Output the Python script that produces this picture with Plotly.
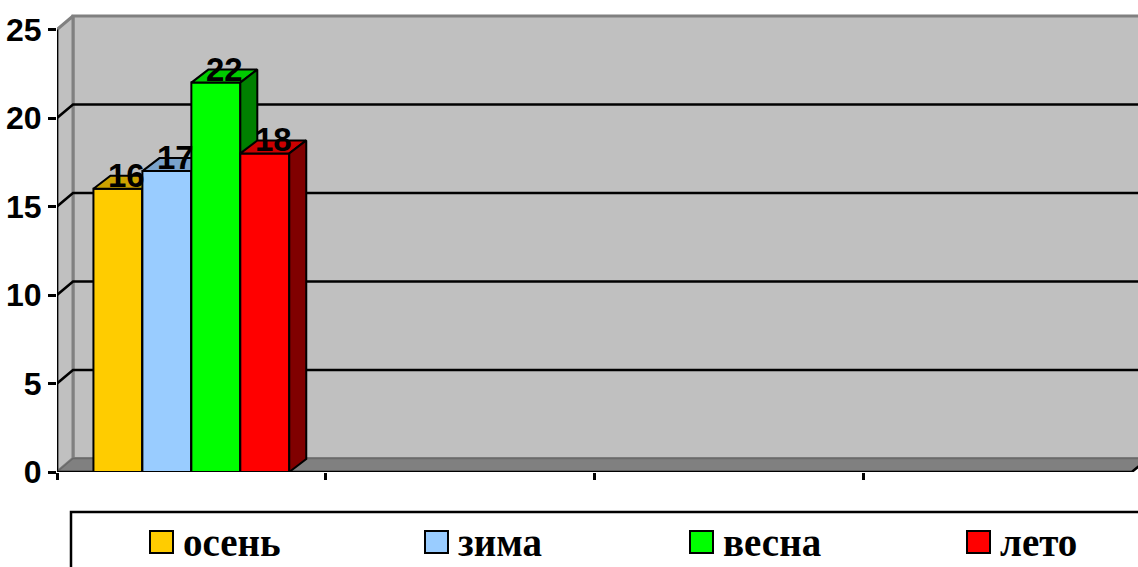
import plotly.graph_objects as go

# ---------------- data ----------------
series_names = ["осень", "зима", "весна", "лето"]
values = [16, 17, 22, 18]
category_slots = [0, 1, 2, 3]          # 4 category slots on the x axis, data in the first
data_slot = 0
y_tick_vals = [0, 5, 10, 15, 20, 25]
x_tick_vals = [0, 1, 2, 3]

# ---------------- styles ----------------
front_colors = ["#FFCC00", "#99CCFF", "#00FF00", "#FF0000"]
top_colors = ["#CCA300", "#7AA3CC", "#00CC00", "#CC0000"]
side_colors = ["#806600", "#4D6680", "#008000", "#800000"]
WALL = "#C0C0C0"
FLOOR = "#808080"
EDGE = "#808080"

W, H = 1138, 567
ML, MB, MT, MR = 57, 95, 0, 0
PX_X = 268.7      # pixels per category slot
PX_Y = 17.7       # pixels per value unit
XMAX = (W - ML - MR) / PX_X
YMAX = (H - MB - MT) / PX_Y
NSLOT = len(category_slots)
VMAX = max(y_tick_vals)

DXW, DYW = 16 / PX_X, 13.5 / PX_Y     # wall depth
DXB, DYB = 17 / PX_X, 13 / PX_Y       # bar depth
BW = 0.1822                           # bar width (in slot units)

fig = go.Figure()
z = [0]


def nz():
    z[0] += 1
    return z[0]


def poly(xs, ys, fill, line_color, line_width):
    fig.add_trace(go.Scatter(
        x=xs + [xs[0]], y=ys + [ys[0]], mode="lines", fill="toself",
        fillcolor=fill, line=dict(color=line_color, width=line_width),
        hoverinfo="skip", showlegend=False, zorder=nz()))


def line(xs, ys, color, width):
    fig.add_trace(go.Scatter(
        x=xs, y=ys, mode="lines", line=dict(color=color, width=width),
        hoverinfo="skip", showlegend=False, zorder=nz()))


# back wall
poly([DXW, NSLOT + DXW, NSLOT + DXW, DXW],
     [DYW, DYW, VMAX + DYW, VMAX + DYW], WALL, EDGE, 3)
# left wall
poly([0, 0, DXW, DXW], [0, VMAX, VMAX + DYW, DYW], WALL, EDGE, 3)
# gridlines
for v in y_tick_vals[1:-1]:
    line([0, DXW, NSLOT + DXW], [v, v + DYW, v + DYW], "black", 2.5)
# floor
poly([0, NSLOT, NSLOT + DXW, DXW], [0, 0, DYW, DYW], FLOOR, "#6A6A6A", 1.5)
# front axis lines
line([0, NSLOT, NSLOT + DXW], [0, 0, DYW], "black", 2.5)
line([0, 0], [0, VMAX], "black", 2.5)

# bars
center = data_slot + 0.5
n = len(values)
for i, (name, v) in enumerate(zip(series_names, values)):
    off = -n / 2 * BW + i * BW
    x0 = center + off
    x1 = x0 + BW
    fig.add_trace(go.Bar(
        x=[center], y=[v], width=[BW], offset=[off], name=name,
        marker=dict(color=front_colors[i], line=dict(color="black", width=2)),
        hoverinfo="skip", showlegend=False, zorder=nz()))
    # top face
    poly([x0, x1, x1 + DXB, x0 + DXB], [v, v, v + DYB, v + DYB],
         top_colors[i], "black", 2)
    # side face
    poly([x1, x1, x1 + DXB, x1 + DXB], [0, v, v + DYB, DYB],
         side_colors[i], "black", 2)

annotations = []
for i, v in enumerate(values):
    off = -n / 2 * BW + i * BW
    xc = center + off + BW / 2 + DXB / 2
    annotations.append(dict(
        x=xc, y=v, xref="x", yref="y", text=str(v), showarrow=False,
        xanchor="center", yanchor="bottom", yshift=-7,
        font=dict(family="Liberation Sans, Arial", size=33, color="black",
                  weight="bold")))

# legend (manual, drawn in paper coordinates)
def px2x(px):
    return (px - ML) / (W - ML - MR)


def py2y(py):
    return (H - MB - py) / (H - MB - MT)


shapes = [dict(type="rect", xref="paper", yref="paper",
               x0=px2x(71), x1=px2x(1150), y0=py2y(512), y1=py2y(600),
               line=dict(color="black", width=2.5), fillcolor="rgba(0,0,0,0)")]
leg_x = [150, 425, 690, 967]
for i, name in enumerate(series_names):
    sx = leg_x[i]
    shapes.append(dict(type="rect", xref="paper", yref="paper",
                       x0=px2x(sx), x1=px2x(sx + 23), y0=py2y(531), y1=py2y(553),
                       line=dict(color="black", width=2),
                       fillcolor=front_colors[i]))
    annotations.append(dict(
        x=px2x(sx + 31), y=py2y(542), xref="paper", yref="paper",
        text=name, showarrow=False, xanchor="left", yanchor="middle",
        font=dict(family="Liberation Serif, Times New Roman", size=39,
                  color="black", weight="bold")))

fig.update_layout(
    width=W, height=H,
    margin=dict(l=ML, r=MR, t=MT, b=MB, pad=0),
    paper_bgcolor="white", plot_bgcolor="white",
    barmode="overlay", showlegend=False,
    annotations=annotations, shapes=shapes,
    xaxis=dict(range=[0, XMAX], tickvals=x_tick_vals, showticklabels=False,
               ticks="outside", ticklen=7, tickwidth=2.5, tickcolor="black",
               showgrid=False, zeroline=False, showline=False, fixedrange=True),
    yaxis=dict(range=[0, YMAX], tickvals=y_tick_vals,
               ticks="outside", ticklen=8, tickwidth=2.5, tickcolor="black",
               tickfont=dict(family="Liberation Sans, Arial", size=32,
                             color="black", weight="bold"),
               showgrid=False, zeroline=False, showline=False, fixedrange=True),
)

fig.write_html("out.html")
